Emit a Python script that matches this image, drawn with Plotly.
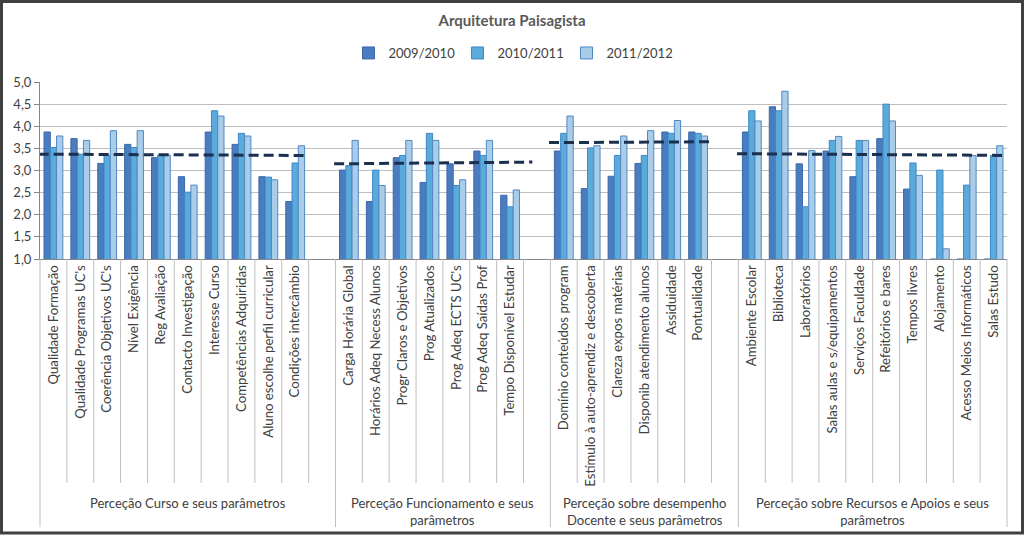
import plotly.graph_objects as go

# ---------------- data ----------------
group_names = [
    "Perceção Curso e seus parâmetros",
    "Perceção Funcionamento e seus<br>parâmetros",
    "Perceção sobre desempenho<br>Docente e seus parâmetros",
    "Perceção sobre Recursos e Apoios e seus<br>parâmetros",
]

cats_curso = ["Qualidade Formação", "Qualidade Programas UC's", "Coerência Objetivos UC's",
              "Nível Exigência", "Reg Avaliação", "Contacto Investigação", "Interesse Curso",
              "Competências Adquiridas", "Aluno escolhe perfil curricular", "Condições intercâmbio"]
cats_func = ["Carga Horária Global", "Horários Adeq Necess Alunos", "Progr Claros e Objetivos",
             "Prog Atualizados", "Prog Adeq ECTS UC's", "Prog Adeq Saídas Prof",
             "Tempo Disponível Estudar"]
cats_doc = ["Domínio conteúdos program", "Estímulo à auto-aprendiz e descoberta",
            "Clareza expos matérias", "Disponib atendimento alunos", "Assiduidade", "Pontualidade"]
cats_rec = ["Ambiente Escolar", "Biblioteca", "Laboratórios", "Salas aulas e s/equipamentos",
            "Serviços Faculdade", "Refeitórios e bares", "Tempos livres", "Alojamento",
            "Acesso Meios Informáticos", "Salas Estudo"]

series_names = ["2009/2010", "2010/2011", "2011/2012"]

v2009_curso = [3.87, 3.72, 3.16, 3.59, 3.29, 2.86, 3.87, 3.59, 2.86, 2.30]
v2010_curso = [3.52, 3.37, 3.34, 3.52, 3.35, 2.51, 4.35, 3.84, 2.85, 3.17]
v2011_curso = [3.78, 3.68, 3.90, 3.90, 3.35, 2.67, 4.23, 3.78, 2.79, 3.56]

v2009_func = [3.01, 2.30, 3.29, 2.73, 3.15, 3.44, 2.44]
v2010_func = [3.11, 3.01, 3.34, 3.84, 2.66, 3.34, 2.18]
v2011_func = [3.68, 2.66, 3.68, 3.68, 2.79, 3.68, 2.56]

v2009_doc = [3.44, 2.59, 2.87, 3.16, 3.87, 3.87]
v2010_doc = [3.84, 3.51, 3.34, 3.34, 3.84, 3.84]
v2011_doc = [4.23, 3.56, 3.78, 3.90, 4.13, 3.78]

v2009_rec = [3.87, 4.44, 3.15, 3.44, 2.86, 3.72, 2.58, 1.00, 1.00, 1.00]
v2010_rec = [4.35, 4.35, 2.18, 3.68, 3.68, 4.50, 3.17, 3.01, 2.67, 3.34]
v2011_rec = [4.12, 4.79, 3.45, 3.77, 3.68, 4.12, 2.89, 1.23, 3.34, 3.56]

# group average (dashed) lines: value at start and at end
avg_start = [3.37, 3.15, 3.63, 3.38]
avg_end = [3.34, 3.19, 3.65, 3.34]

y_ticks = [1.0, 1.5, 2.0, 2.5, 3.0, 3.5, 4.0, 4.5, 5.0]

# ---------------- layout helpers ----------------
group_cats = [cats_curso, cats_func, cats_doc, cats_rec]
group_vals = [
    [v2009_curso, v2009_func, v2009_doc, v2009_rec],
    [v2010_curso, v2010_func, v2010_doc, v2010_rec],
    [v2011_curso, v2011_func, v2011_doc, v2011_rec],
]
blank_after = [True, True, True, False]

positions = []
labels = []
group_slots = []   # (first slot, last item slot, last slot incl blank)
slot = 0
for g, cats in enumerate(group_cats):
    first = slot
    for c in cats:
        positions.append(slot)
        labels.append(c)
        slot += 1
    last_item = slot - 1
    if blank_after[g]:
        slot += 1
    group_slots.append((first, last_item, slot - 1))
n_slots = slot
x_min, x_max = -0.5, n_slots - 0.5

W, H = 1024, 535
ML, MR, MT, MB = 40, 17, 82, 276
PW, PH = W - ML - MR, H - MT - MB


def px_x(px):
    return (px - ML) / PW


def px_y(py):
    return (H - MB - py) / PH


def data_x(x):
    return (x - x_min) / (x_max - x_min)


fills = ["#4A7DC0", "#5AAADC", "#A9CDE8"]
edges = ["#3A68AA", "#3E88C6", "#5088C2"]

fig = go.Figure()
for s in range(3):
    vals = []
    for g in range(4):
        vals.extend(group_vals[s][g])
    fig.add_trace(go.Bar(
        x=positions, y=vals, name=series_names[s],
        marker=dict(color=fills[s], line=dict(color=edges[s], width=1)),
    ))

line_pad_end = [0.38, 0.83, 0.52, 0.8]
for g in range(4):
    first, last_item, last = group_slots[g]
    fig.add_trace(go.Scatter(
        x=[first - 0.55, last_item + line_pad_end[g]],
        y=[avg_start[g], avg_end[g]],
        mode="lines", showlegend=False, hoverinfo="skip",
        line=dict(color="#1B2F4E", width=3, dash="10px,5px"),
    ))

shapes = []
group_bounds = {group_slots[g][0] for g in range(4)} | {n_slots}
for k in range(n_slots + 1):
    xb = data_x(k - 0.5)
    long = k in group_bounds
    shapes.append(dict(type="line", xref="paper", yref="paper",
                       x0=xb, x1=xb, y0=px_y(259), y1=px_y(527 if long else 483),
                       line=dict(color="#BFBFBF", width=1)))
# outer chart border
shapes.append(dict(type="rect", xref="paper", yref="paper",
                   x0=px_x(1.5), x1=px_x(W - 1.5), y0=px_y(H - 2), y1=px_y(1.5),
                   line=dict(color="#404040", width=3), fillcolor="rgba(0,0,0,0)"))

annotations = []
for g in range(4):
    first, last_item, last = group_slots[g]
    cx = (first - 0.5 + last + 0.5) / 2
    annotations.append(dict(
        x=data_x(cx), xref="paper", y=px_y(493), yref="paper",
        text=group_names[g], showarrow=False, xanchor="center", yanchor="top",
        font=dict(family="Lato", size=13, color="#404040"), align="center",
    ))

fig.update_layout(
    width=W, height=H,
    margin=dict(l=ML, r=MR, t=MT, b=MB, autoexpand=False),
    paper_bgcolor="white", plot_bgcolor="white",
    separators=",.",
    barmode="group", bargap=0.3, bargroupgap=0.0,
    font=dict(family="Lato", size=13, color="#404040"),
    title=dict(text="<b>Arquitetura Paisagista</b>", x=0.5, xref="container", xanchor="center",
               y=1 - 21 / H, yref="container", yanchor="middle",
               font=dict(family="Lato", size=15, color="#595959")),
    legend=dict(orientation="h", x=0.5, xanchor="center", xref="container",
                y=1 - 53 / H, yref="container", yanchor="middle",
                font=dict(family="Lato", size=13, color="#404040"),
                itemwidth=30, traceorder="normal", entrywidth=64, entrywidthmode="pixels"),
    xaxis=dict(range=[x_min, x_max], tickmode="array", tickvals=positions, ticktext=labels,
               tickangle=-90, ticks="", showgrid=False, zeroline=False,
               showline=True, linecolor="#868686", linewidth=1,
               tickfont=dict(family="Lato", size=13.2, color="#404040")),
    yaxis=dict(range=[1, 5], tickmode="array", tickvals=y_ticks, tickformat=".1f",
               showgrid=True, gridcolor="#BEBEBE", gridwidth=1, zeroline=False,
               showline=True, linecolor="#868686", linewidth=1,
               ticks="outside", ticklen=5, tickcolor="#868686",
               tickfont=dict(family="Lato", size=13, color="#404040")),
    shapes=shapes, annotations=annotations,
)

fig.write_html("out.html", config={"displayModeBar": False},
               post_script="document.body.style.margin='0';")
